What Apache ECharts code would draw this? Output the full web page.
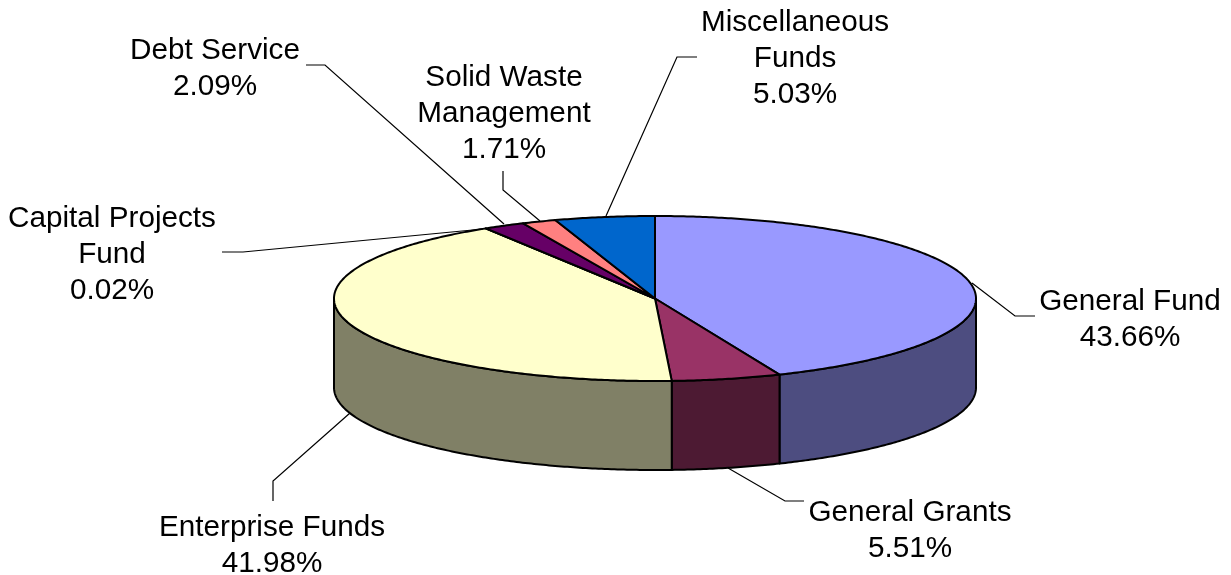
<!DOCTYPE html>
<html>
<head>
<meta charset="utf-8">
<style>html,body{margin:0;padding:0;background:#fff}#c{width:1231px;height:575px}</style>
<script src="https://cdn.jsdelivr.net/npm/echarts@6/dist/echarts.min.js"></script>
</head>
<body>
<div id="c"></div>
<script>
const categories = ['General Fund','General Grants','Enterprise Funds','Capital Projects Fund','Debt Service','Solid Waste Management','Miscellaneous Funds'];
const values = [43.66, 5.51, 41.98, 0.02, 2.09, 1.71, 5.03];

const topColors = ['#9999FF','#993366','#FFFFCC','#CCFFFF','#660066','#FF8080','#0066CC'];
const sideColors = ['#4D4D80','#4D1A33','#808066','#668080','#330033','#804040','#003366'];
const labelLines = [
  ['General Fund'],
  ['General Grants'],
  ['Enterprise Funds'],
  ['Capital Projects','Fund'],
  ['Debt Service'],
  ['Solid Waste','Management'],
  ['Miscellaneous','Funds']
];
const labelAnchors = [[1130,302],[910,513],[272,528],[112,219],[215,51],[504,78],[795,23]];
const leaders = [
  [[1035,316],[1015,316],[972,283]],
  [[804,501],[785,501],[728,468]],
  [[273,501],[273,481],[350,413]],
  [[222,252],[243,252],[483,229]],
  [[306,65],[325,65],[504,224]],
  [[503,171],[503,190],[540,221]],
  [[697,57],[677,57],[606,216]]
];
const pie = {cx:655, cy:298.5, rx:321, ry:82.5, depth:89};
const FONT = '"Liberation Sans", Arial, sans-serif';
const FS = 29.7, LH = 36;

const total = values.reduce((a,b)=>a+b,0);
const starts = [];
values.reduce((acc,v,i)=>{starts[i]=acc;return acc+v;},0);
const toAngle = v => v/total*Math.PI*2;
const pt = (t,dy) => [pie.cx+pie.rx*Math.sin(t), pie.cy-pie.ry*Math.cos(t)+(dy||0)];
function arc(t0,t1,dy){
  const n = Math.max(2,Math.ceil((t1-t0)/0.01)), out=[];
  for(let k=0;k<=n;k++) out.push(pt(t0+(t1-t0)*k/n,dy));
  return out;
}

function renderSlice(params, api){
  const i = api.value(0), v = api.value(1);
  const t0 = toAngle(starts[i]), t1 = t0+toAngle(v);
  const children = [];
  // outer wall: only the front half of the rim is visible
  const a = Math.max(t0,Math.PI/2), b = Math.min(t1,Math.PI*1.5);
  if(b>a){
    const upper = arc(a,b,0), lower = arc(a,b,pie.depth).reverse();
    children.push({type:'polygon',z2:1,shape:{points:upper.concat(lower)},
      style:{fill:sideColors[i],stroke:'#000',lineWidth:2,lineJoin:'round'}});
  }
  children.push({type:'polygon',z2:2,shape:{points:[[pie.cx,pie.cy]].concat(arc(t0,t1,0))},
    style:{fill:topColors[i],stroke:'#000',lineWidth:2,lineJoin:'round'}});
  children.push({type:'polyline',z2:3,shape:{points:leaders[i]},
    style:{fill:null,stroke:'#000',lineWidth:1.2}});
  const lines = labelLines[i].concat([v.toFixed(2)+'%']);
  lines.forEach((s,k)=>{
    children.push({type:'text',z2:4,style:{
      x:labelAnchors[i][0], y:labelAnchors[i][1]+k*LH,
      text:s, fill:'#000', font:FS+'px '+FONT, align:'center', verticalAlign:'middle'
    }});
  });
  return {type:'group',children};
}

const chart = echarts.init(document.getElementById('c'),null,{renderer:'canvas'});
chart.setOption({
  animation:false,
  backgroundColor:'#fff',
  tooltip:{show:false},
  series:[{
    type:'custom',
    coordinateSystem:'none',
    silent:true,
    clip:false,
    renderItem:renderSlice,
    data:values.map((v,i)=>({name:categories[i],value:[i,v]}))
  }]
});
</script>
</body>
</html>
